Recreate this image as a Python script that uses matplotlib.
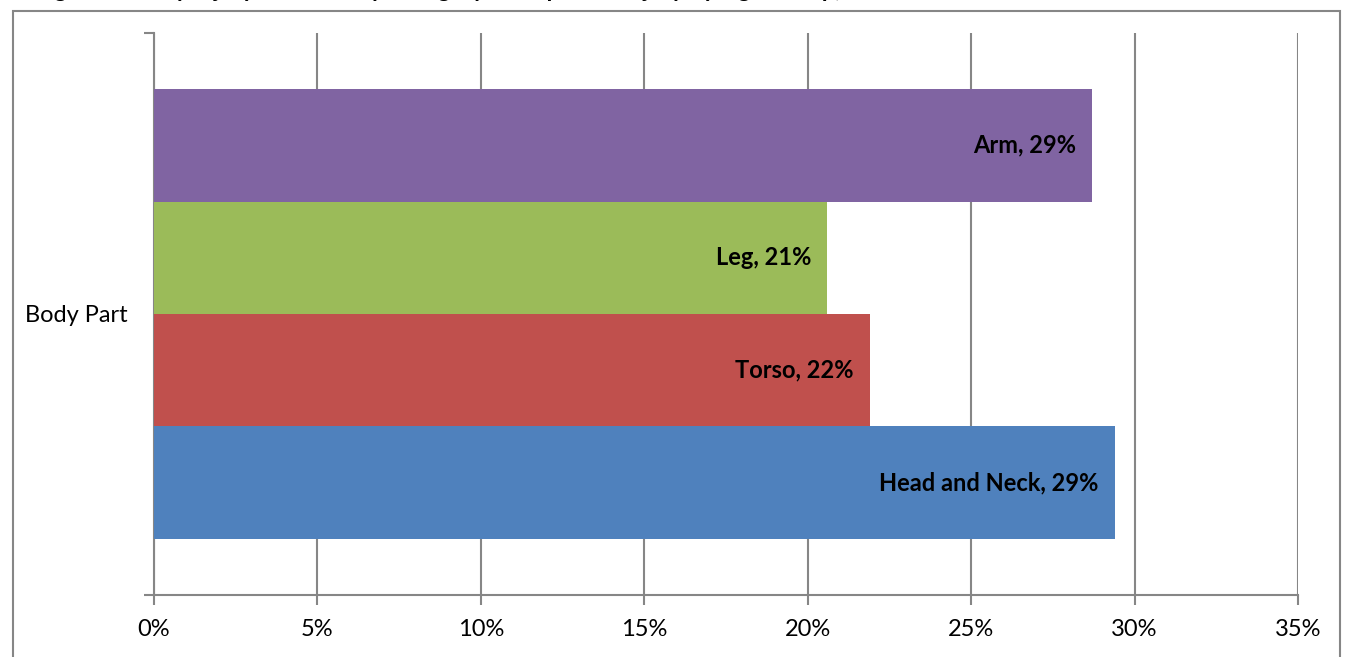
import matplotlib
matplotlib.use('Agg')

import matplotlib.pyplot as plt
import matplotlib.patches as mpatches
from matplotlib.ticker import FuncFormatter, FixedLocator

# ── 데이터 ───────────────────────────────────────────────────────────────────
CATEGORY = 'Body Part'
SERIES = ['Head and Neck', 'Torso', 'Leg', 'Arm']
VALUES = [29.4, 21.9, 20.6, 28.7]          # %
LABELS = ['Head and Neck, 29%', 'Torso, 22%', 'Leg, 21%', 'Arm, 29%']
COLORS = ['#4F81BD', '#C0504D', '#9BBB59', '#8064A2']
X_TICKS = [0, 5, 10, 15, 20, 25, 30, 35]
TITLE = 'Figure 6: Body Injury Location by Category of Reported Injury by Age Group, 2012'

GRID = '#868686'
FONT = ['Lato', 'DejaVu Sans']
FS = 17
plt.rcParams['font.family'] = FONT

W, H, DPI = 1351, 657, 100
fig = plt.figure(figsize=(W / DPI, H / DPI), dpi=DPI)

# 외곽 프레임
fig.patches.append(mpatches.Rectangle(
    (13 / W, -0.05), (1340 - 13) / W, 1.05 - 11 / H,
    transform=fig.transFigure, fill=False, edgecolor=GRID, linewidth=1.5))

# 잘린 제목 (아래 꼬리만 보임)
fig.text(35 / W, 1 + 3.3 / H, TITLE, ha='left', va='baseline',
         fontsize=FS, fontweight='bold', color='black')

ax = fig.add_axes([154 / W, (H - 595) / H, (1298 - 154) / W, (595 - 33) / H])

n = len(SERIES)
bar_h = 0.8 / n
for i, (val, lab, col) in enumerate(zip(VALUES, LABELS, COLORS)):
    y = -0.4 + bar_h * (i + 0.5)
    ax.barh(y, val, height=bar_h, color=col, zorder=3)
    ax.text(val - 0.5, y, lab, ha='right', va='center',
            fontsize=FS, fontweight='bold', color='black', zorder=4)

ax.set_xlim(0, 35)
ax.set_ylim(-0.5, 0.5)
ax.set_xticks(X_TICKS)
ax.xaxis.set_major_formatter(FuncFormatter(lambda v, _: f'{v:.0f}%'))
ax.tick_params(axis='x', labelsize=FS, length=7, width=1.5, color=GRID,
               pad=10, direction='out')

ax.set_yticks([0])
ax.set_yticklabels([CATEGORY])
ax.yaxis.set_minor_locator(FixedLocator([-0.5, 0.5]))
ax.tick_params(axis='y', which='major', length=0, labelsize=FS, pad=19)
ax.tick_params(axis='y', which='minor', length=7, width=1.5, color=GRID)

ax.grid(axis='x', color=GRID, linewidth=1.5, zorder=0)
ax.set_axisbelow(True)
for side in ['top', 'right']:
    ax.spines[side].set_visible(False)
for side in ['left', 'bottom']:
    ax.spines[side].set_color(GRID)
    ax.spines[side].set_linewidth(1.5)

fig.savefig('out.png', dpi=DPI)
